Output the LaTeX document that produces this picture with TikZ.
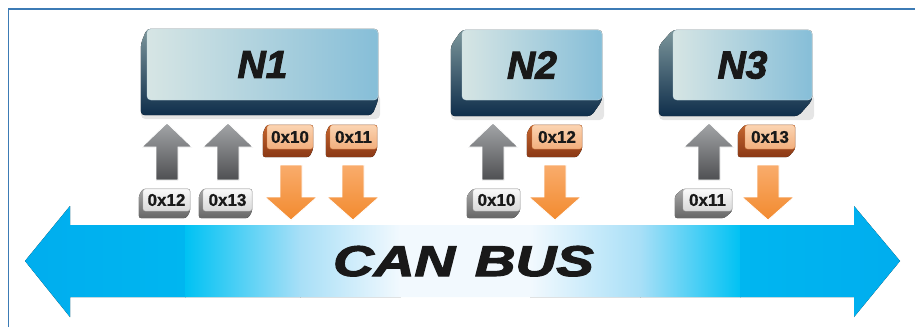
\documentclass[tikz,border=0pt]{standalone}
\usepackage{fontspec}
\setmainfont{Liberation Sans}
\newfontfamily\heavyfont{Liberation Sans Bold Italic}[FakeBold=2.5]
\newfontfamily\labelfont{Liberation Sans Bold}[FakeBold=0.8]
\usetikzlibrary{calc,backgrounds}
\definecolor{frameC}{HTML}{3C7BB5}
\definecolor{busA}{HTML}{00ADEE}
\definecolor{busB}{HTML}{00B6F0}
\definecolor{busC}{HTML}{00C2F3}
\definecolor{busD}{HTML}{A8DFF7}
\definecolor{busE}{HTML}{F2F9FE}
\definecolor{nA}{HTML}{D6E5E4}
\definecolor{nB}{HTML}{86BED8}
\definecolor{nEdge}{HTML}{C9DEE6}
\definecolor{nSideA}{HTML}{7C969B}
\definecolor{nSideB}{HTML}{0F2E4B}
\definecolor{gFaceA}{HTML}{FAFAFA}
\definecolor{gFaceB}{HTML}{D8D8D8}
\definecolor{gEdge}{HTML}{BDBDBD}
\definecolor{gSideA}{HTML}{A8A8A8}
\definecolor{gSideB}{HTML}{666666}
\definecolor{oFaceA}{HTML}{FBD4B2}
\definecolor{oFaceB}{HTML}{F2AE7C}
\definecolor{oEdge}{HTML}{D98850}
\definecolor{oSideA}{HTML}{C5662F}
\definecolor{oSideB}{HTML}{8A3815}
\definecolor{upA}{HTML}{A3A5A8}
\definecolor{upB}{HTML}{4F5052}
\definecolor{dnA}{HTML}{F9AC6C}
\definecolor{dnB}{HTML}{F28A2E}
\tikzset{
  nface/.style={rectangle, rounded corners=4pt, left color=nA, right color=nB,
    draw=nEdge, line width=0.4pt, inner sep=0pt, text=black!90,
    font=\fontsize{39}{39}\heavyfont},
  gface/.style={rectangle, rounded corners=2.5pt, top color=gFaceA, bottom color=gFaceB,
    draw=gEdge, line width=0.4pt, inner sep=0pt, minimum height=22pt, text=black!90,
    font=\fontsize{17}{17}\labelfont},
  oface/.style={rectangle, rounded corners=2.5pt, top color=oFaceA, bottom color=oFaceB,
    draw=oEdge, line width=0.4pt, inner sep=0pt, minimum height=24pt, text=black!90,
    font=\fontsize{17}{17}\labelfont},
  nside/.style={top color=nSideA, bottom color=nSideB},
  gside/.style={top color=gSideA, bottom color=gSideB},
  oside/.style={top color=oSideA, bottom color=oSideB},
  upfill/.style={top color=upA, bottom color=upB, draw=white, line width=0.8pt},
  dnfill/.style={top color=dnA, bottom color=dnB, draw=white, line width=0.8pt},
  uparr/.pic={\path[upfill] (-11,0) -- (-11,-33) -- (-25,-33) -- (0,-57) -- (25,-33) -- (11,-33) -- (11,0) -- cycle;},
  dnarr/.pic={\path[dnfill] (-11,0) -- (11,0) -- (11,32) -- (26,32) -- (0,55) -- (-26,32) -- (-11,32) -- cycle;},
}
\begin{document}
\begin{tikzpicture}[x=1pt,y=-1pt]
\useasboundingbox (0,0) rectangle (915,327);
% frame
\draw[frameC, line width=1.6pt] (8.5,327) -- (8.5,9) -- (915,9);
% bus
\begin{scope}
\clip (25,261) -- (70,206) -- (70,225) -- (854,225) -- (854,206) -- (900,261)
      -- (854,317) -- (854,297) -- (70,297) -- (70,317) -- cycle;
\fill[left color=busA, right color=busB] (20,200) rectangle (185.5,320);
\fill[left color=busC, right color=busD] (185,200) rectangle (300.5,320);
\fill[left color=busD, right color=busE] (300,200) rectangle (400.5,320);
\fill[busE] (400,200) rectangle (530.5,320);
\fill[left color=busE, right color=busD] (530,200) rectangle (640.5,320);
\fill[left color=busD, right color=busC] (640,200) rectangle (740.5,320);
\fill[left color=busB, right color=busA] (740,200) rectangle (905,320);
\end{scope}
\node[anchor=base, text=black!90, font=\fontsize{43}{43}\heavyfont] (bus) at (463.5,276)
  {\scalebox{1.31}[1]{CAN\hspace{0.35em}BUS}};
% node boxes
\node[nface, minimum width=231pt, minimum height=71pt] (n1) at (262.5,64.5) {\raisebox{-1.5pt}{N1}};
\node[nface, minimum width=140pt, minimum height=70pt] (n2) at (532,65) {\raisebox{-1.5pt}{N2}};
\node[nface, minimum width=139pt, minimum height=70pt] (n3) at (742.5,65) {\raisebox{-1.5pt}{N3}};
% id boxes
\node[gface, minimum width=47pt] (g12a) at (166.5,200) {0x12};
\node[gface, minimum width=49pt] (g13a) at (227.5,200) {0x13};
\node[oface, minimum width=46pt] (o10a) at (290,137) {0x10};
\node[oface, minimum width=47pt] (o11a) at (353.5,137) {0x11};
\node[gface, minimum width=47pt] (g10b) at (496.5,200) {0x10};
\node[oface, minimum width=50pt] (o12b) at (557,137) {0x12};
\node[gface, minimum width=49pt] (g11c) at (707.5,200) {0x11};
\node[oface, minimum width=50pt] (o13c) at (770,137) {0x13};
% extrusions
\begin{scope}[on background layer]
\fill[white] (0,0) rectangle (915,327);
\foreach \n/\a/\b in {n1/6/15, n2/11/16, n3/14/16}
  \fill[black, opacity=0.10, rounded corners=5pt] ($(\n.south west)+(-\a,-6)$) rectangle ($(\n.south east)+(2,\b+4)$);
\foreach \n/\a/\b/\s/\r in {n1/6/15/nside/4pt, n2/11/16/nside/4pt, n3/14/16/nside/4pt,
    g12a/4/7/gside/2.5pt, g13a/4/7/gside/2.5pt, g10b/6/7/gside/2.5pt, g11c/8/7/gside/2.5pt,
    o10a/4/8/oside/2.5pt, o11a/4/8/oside/2.5pt, o12b/5/8/oside/2.5pt, o13c/7/8/oside/2.5pt}
  \fill[\s, rounded corners=\r] (\n.north west) -- (\n.north east) -- (\n.south east)
     -- ++(-\a,\b) -- ($(\n.south west)+(-\a,\b)$) -- ($(\n.north west)+(-\a,\b)$) -- cycle;
\end{scope}
% arrows
\pic at (167,180) {uparr};
\pic at (228,180) {uparr};
\pic at (493,180) {uparr};
\pic at (709,180) {uparr};
\pic at (291,165) {dnarr};
\pic at (353,165) {dnarr};
\pic at (555,165) {dnarr};
\pic at (768,165) {dnarr};
\end{tikzpicture}
\end{document}
